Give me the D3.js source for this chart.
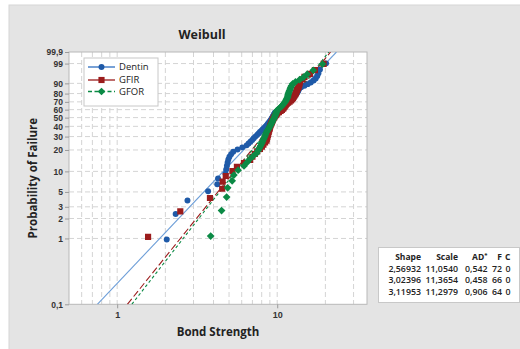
<!DOCTYPE html>
<html><head><meta charset="utf-8">
<script src="https://cdn.jsdelivr.net/npm/d3@7"></script>
<style>
body{margin:0;background:#fff;}
svg{display:block;font-family:"Open Sans","Noto Sans",sans-serif;}
</style>
</head><body>
<svg id="chart" width="520" height="349"></svg>
<script>
// ---------- data ----------
const seriesNames = ["Dentin", "GFIR", "GFOR"];
const dentin = [2.04,2.32,2.75,3.70,4.22,4.27,4.75,4.80,4.85,4.90,4.95,5.03,5.15,5.31,5.65,6.05,6.44,6.62,6.80,6.98,7.13,7.30,7.48,7.65,7.80,7.96,8.12,8.28,8.43,8.58,8.70,8.82,8.95,9.07,9.18,9.27,9.35,9.43,9.52,9.60,9.67,9.90,10.2,10.6,10.8,10.95,11.1,11.3,11.5,11.7,11.9,12.05,12.2,12.4,12.6,12.8,13.0,13.2,13.35,13.5,13.6,13.7,14.1,14.8,15.5,16.2,16.9,17.4,17.8,18.1,18.5,20.2];
const gfir = [1.56,2.48,3.80,4.53,4.56,4.77,5.25,5.6,6.2,6.78,7.0,7.25,7.5,7.8,8.02,8.2,8.4,8.57,8.63,8.68,8.74,8.79,8.84,8.9,8.95,9.0,9.05,9.12,9.2,9.27,9.34,9.41,9.5,9.6,9.72,9.85,10.0,10.25,10.5,10.7,10.9,11.0,11.15,11.3,11.45,11.7,11.95,12.2,12.4,12.55,12.7,12.85,13.0,13.1,13.2,13.3,13.45,13.6,13.7,13.8,13.9,14.4,14.8,16.0,17.2,19.5];
const gfor = [3.84,4.49,4.83,4.90,5.23,5.36,5.7,6.2,6.5,6.75,7.1,7.45,7.6,7.75,7.88,8.0,8.1,8.2,8.3,8.38,8.46,8.55,8.65,8.77,8.9,9.0,9.1,9.2,9.28,9.35,9.45,9.55,9.63,9.7,9.77,9.83,9.88,9.95,10.1,10.3,10.5,10.7,10.85,11.0,11.15,11.3,11.4,11.5,11.6,11.65,11.7,11.75,11.85,11.95,12.05,12.15,12.3,12.5,13.0,13.8,14.6,15.4,16.8,19.2];
const shapeParams = [2.56932, 3.02396, 3.11953];
const scaleParams = [11.0540, 11.3654, 11.2979];
const adStats = [0.542, 0.458, 0.906];
const failures = [72, 66, 64];
const censored = [0, 0, 0];
const yTickPercents = [0.1, 1, 2, 3, 5, 10, 20, 30, 40, 50, 60, 70, 80, 90, 99, 99.9];
const yTickLabels = ["0,1","1","2","3","5","10","20","30","40","50","60","70","80","90","99","99,9"];
const xTickValues = [1, 10];
const xTickLabels = ["1", "10"];
const xGridValues = [0.6,0.7,0.8,0.9,1,2,3,4,5,6,7,8,9,10,20,30];
const tableHeaders = ["Shape", "Scale", "AD*", "F", "C"];

// ---------- styling ----------
const colors = ["#1f5aa8", "#9b1c1c", "#0b8a45"];
const lineColors = ["#6d9ed8", "#9b1c1c", "#0b8a45"];
const lineDash = [null, "7,3", "3,2.5"];
const symbols = [d3.symbolCircle, d3.symbolSquare, d3.symbolSquare];
const symSizes = [28, 38, 30];
const symRot = [0, 0, 45];

const svg = d3.select("#chart");
const L = 69, R = 367, T = 52, B = 304.3;

// panel background
svg.append("rect").attr("x", 9).attr("y", 5).attr("width", 520).attr("height", 350)
  .attr("fill", "#e4e4e4").attr("stroke", "#d6d6d6");

const wT = p => Math.log(-Math.log(1 - p));
const x = d3.scaleLog().domain([0.5, 36.4]).range([L, R]);
const y = d3.scaleLinear().domain([wT(0.001), wT(0.999)]).range([B, T]);

// plot area
svg.append("rect").attr("x", L).attr("y", T).attr("width", R - L).attr("height", B - T)
  .attr("fill", "#fff");

svg.append("defs").append("clipPath").attr("id", "clip")
  .append("rect").attr("x", L).attr("y", T).attr("width", R - L).attr("height", B - T);

// gridlines
const grid = svg.append("g");
grid.selectAll("line.v").data(xGridValues).join("line")
  .attr("x1", d => x(d)).attr("x2", d => x(d)).attr("y1", T).attr("y2", B)
  .attr("stroke", "#d4d4d4").attr("stroke-width", 1).attr("stroke-dasharray", "5,3");
grid.selectAll("line.h").data(yTickPercents.slice(1, -1)).join("line")
  .attr("x1", L).attr("x2", R).attr("y1", d => y(wT(d / 100))).attr("y2", d => y(wT(d / 100)))
  .attr("stroke", "#d4d4d4").attr("stroke-width", 1).attr("stroke-dasharray", "5,3");

// frame
svg.append("rect").attr("x", L).attr("y", T).attr("width", R - L).attr("height", B - T)
  .attr("fill", "none").attr("stroke", "#b8b8b8");

// y axis
const yAxis = d3.axisLeft(y)
  .tickValues(yTickPercents.map(p => wT(p / 100)))
  .tickFormat((d, i) => yTickLabels[i]).tickSize(4).tickPadding(2);
const gy = svg.append("g").attr("transform", `translate(${L},0)`).call(yAxis);
gy.select(".domain").remove();
gy.selectAll("line").attr("stroke", "#9a9a9a");
gy.selectAll("text").attr("font-size", 8.5).attr("font-weight", 700).attr("fill", "#333");

// x axis
const xAxis = d3.axisBottom(x).tickValues(xTickValues)
  .tickFormat((d, i) => xTickLabels[i]).tickSize(4).tickPadding(3);
const gx = svg.append("g").attr("transform", `translate(0,${B})`).call(xAxis);
gx.select(".domain").remove();
gx.selectAll("line").attr("stroke", "#9a9a9a");
gx.selectAll("text").attr("font-size", 9).attr("font-weight", 700).attr("fill", "#333");

// fitted lines
const plot = svg.append("g").attr("clip-path", "url(#clip)");
seriesNames.forEach((s, k) => {
  const pts = [0.001, 0.999].map(p => [x(scaleParams[k] * Math.pow(-Math.log(1 - p), 1 / shapeParams[k])), y(wT(p))]);
  plot.append("path").attr("d", d3.line()(pts))
    .attr("fill", "none").attr("stroke", lineColors[k]).attr("stroke-width", 1.1)
    .attr("stroke-dasharray", lineDash[k]);
});

// points (median-rank plotting positions)
const allData = [dentin, gfir, gfor];
allData.forEach((arr, k) => {
  const n = arr.length;
  const sorted = arr.slice().sort((a, b) => a - b);
  const sym = d3.symbol().type(symbols[k]).size(symSizes[k]);
  plot.append("g").selectAll("path").data(sorted).join("path")
    .attr("d", sym)
    .attr("transform", (d, i) => `translate(${x(d)},${y(wT((i + 1 - 0.3) / (n + 0.4)))}) rotate(${symRot[k]})`)
    .attr("fill", colors[k]);
});

// legend
const lg = svg.append("g");
lg.append("rect").attr("x", 84).attr("y", 58).attr("width", 74).attr("height", 48)
  .attr("fill", "#fff").attr("stroke", "#c8c8c8");
const legY = [67, 80, 91.5];
const legDash = [null, null, "4,2.5"];
seriesNames.forEach((s, k) => {
  lg.append("line").attr("x1", 88).attr("x2", 115).attr("y1", legY[k]).attr("y2", legY[k])
    .attr("stroke", k === 0 ? "#2f6fc0" : colors[k]).attr("stroke-width", 1.3).attr("stroke-dasharray", legDash[k]);
  lg.append("path").attr("d", d3.symbol().type(symbols[k]).size(symSizes[k])())
    .attr("transform", `translate(101.5,${legY[k]}) rotate(${symRot[k]})`).attr("fill", colors[k]);
  lg.append("text").attr("x", 119).attr("y", legY[k] + 3.3).text(s)
    .attr("font-size", 9.5).attr("fill", "#222");
});

// titles
svg.append("text").attr("x", 202).attr("y", 39).attr("text-anchor", "middle")
  .attr("font-size", 12.5).attr("font-weight", 700).attr("fill", "#222").text("Weibull");
svg.append("text").attr("transform", `translate(36.5,${(T + B) / 2}) rotate(-90)`)
  .attr("text-anchor", "middle").attr("font-size", 11.5).attr("font-weight", 700).attr("fill", "#222")
  .text("Probability of Failure");
svg.append("text").attr("x", (L + R) / 2).attr("y", 336).attr("text-anchor", "middle")
  .attr("font-size", 11.5).attr("font-weight", 700).attr("fill", "#222").text("Bond Strength");

// stats table
const tb = svg.append("g");
tb.append("rect").attr("x", 378.5).attr("y", 247.5).attr("width", 141).attr("height", 55)
  .attr("fill", "#fff").attr("stroke", "#c8c8c8");
const colRight = [421, 458, 487.5, 502, 510.5];
const rowY = [260, 271.5, 283, 294.5];
const comma = s => s.replace(".", ",");
tableHeaders.forEach((h, j) => {
  const t = tb.append("text").attr("x", colRight[j]).attr("y", rowY[0]).attr("text-anchor", "end")
    .attr("font-size", 8.5).attr("font-weight", 700).attr("fill", "#222");
  if (h === "AD*") {
    t.append("tspan").text("AD");
    t.append("tspan").text("*").attr("font-size", 6).attr("dy", -3);
  } else t.text(h);
});
seriesNames.forEach((s, k) => {
  const vals = [comma(shapeParams[k].toFixed(5)), comma(scaleParams[k].toFixed(4)),
    comma(adStats[k].toFixed(3)), String(failures[k]), String(censored[k])];
  vals.forEach((v, j) => {
    tb.append("text").attr("x", colRight[j]).attr("y", rowY[k + 1]).attr("text-anchor", "end")
      .attr("font-size", 8.8).attr("font-weight", 600).attr("fill", "#222").text(v);
  });
});
</script>
</body></html>
